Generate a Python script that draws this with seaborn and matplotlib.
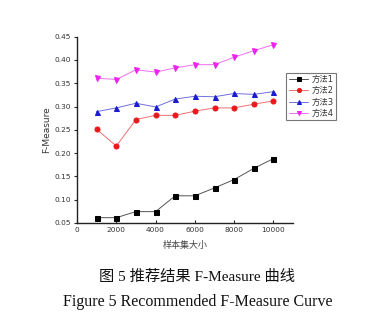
import matplotlib
matplotlib.use("Agg")
import matplotlib.pyplot as plt
import seaborn as sns
import pandas as pd

sns.set_theme(style="white")
plt.rcParams['font.family'] = ['DejaVu Sans', 'Noto Sans CJK SC']

sizes = [1000, 2000, 3000, 4000, 5000, 6000, 7000, 8000, 9000, 10000]
method1 = [0.061, 0.061, 0.074, 0.074, 0.108, 0.108, 0.125, 0.143, 0.167, 0.188]
method2 = [0.251, 0.215, 0.272, 0.281, 0.281, 0.290, 0.297, 0.297, 0.305, 0.312]
method3 = [0.289, 0.297, 0.307, 0.299, 0.316, 0.322, 0.321, 0.328, 0.326, 0.332]
method4 = [0.361, 0.358, 0.379, 0.374, 0.383, 0.390, 0.390, 0.406, 0.420, 0.433]
names = ["方法1", "方法2", "方法3", "方法4"]
series = [method1, method2, method3, method4]
x_ticks = [0, 2000, 4000, 6000, 8000, 10000]
y_ticks = [0.05, 0.10, 0.15, 0.20, 0.25, 0.30, 0.35, 0.40, 0.45]

colors = ["#000000", "#e8191b", "#1a1ad0", "#ee22ee"]
line_colors = ["#555555", "#f07070", "#7070e0", "#f070f0"]
markers = ["s", "o", "^", "v"]

fig = plt.figure(figsize=(3.72, 3.34), dpi=100)
ax = fig.add_axes([0.207, 0.333, 0.581, 0.557])

for name, vals, c, lc, m in zip(names, series, colors, line_colors, markers):
    df = pd.DataFrame({"x": sizes, "y": vals})
    sns.lineplot(data=df, x="x", y="y", ax=ax, color=lc, linewidth=0.7,
                 marker=m, markersize=3.6, markerfacecolor=c, markeredgecolor=c,
                 label=name, legend=False)

ax.set_xlim(0, 11000)
ax.set_ylim(0.05, 0.45)
ax.set_xticks(x_ticks)
ax.set_yticks(y_ticks)
ax.set_xticklabels([str(t) for t in x_ticks], fontsize=5.3, color="#333333")
ax.set_yticklabels([f"{t:.2f}" for t in y_ticks], fontsize=5.3, color="#333333")
ax.tick_params(axis="x", direction="in", length=2.5, width=0.8, pad=3, bottom=True)
ax.tick_params(axis="y", direction="out", length=2.5, width=0.8, pad=2, left=True)
for s in ["top", "right"]:
    ax.spines[s].set_visible(False)
for s in ["left", "bottom"]:
    ax.spines[s].set_color("#222222")
    ax.spines[s].set_linewidth(1.0)
ax.set_xlabel("样本集大小", fontsize=6.5, color="#444444", labelpad=6)
ax.set_ylabel("F-Measure", fontsize=6.5, color="#333333", labelpad=2)

h, l = ax.get_legend_handles_labels()
leg = fig.legend(h, l, loc="upper left", bbox_to_anchor=(0.770, 0.782),
                 fontsize=6, frameon=True, fancybox=False, handlelength=2.3,
                 borderpad=0.3, labelspacing=0.25, handletextpad=0.4,
                 borderaxespad=0, markerscale=0.8)
leg.get_frame().set_edgecolor("#555555")
leg.get_frame().set_linewidth(0.8)
for t in leg.get_texts():
    t.set_color("#333333")

fig.text(0.53, 0.17, "图 5 推荐结果 F-Measure 曲线", ha="center", va="center",
         fontsize=11, family=["Liberation Serif", "Noto Sans CJK SC"], color="#111111")
fig.text(0.532, 0.095, "Figure 5 Recommended F-Measure Curve", ha="center", va="center",
         fontsize=11.5, family=["Liberation Serif"], color="#111111")

fig.savefig("out.png", dpi=100)
